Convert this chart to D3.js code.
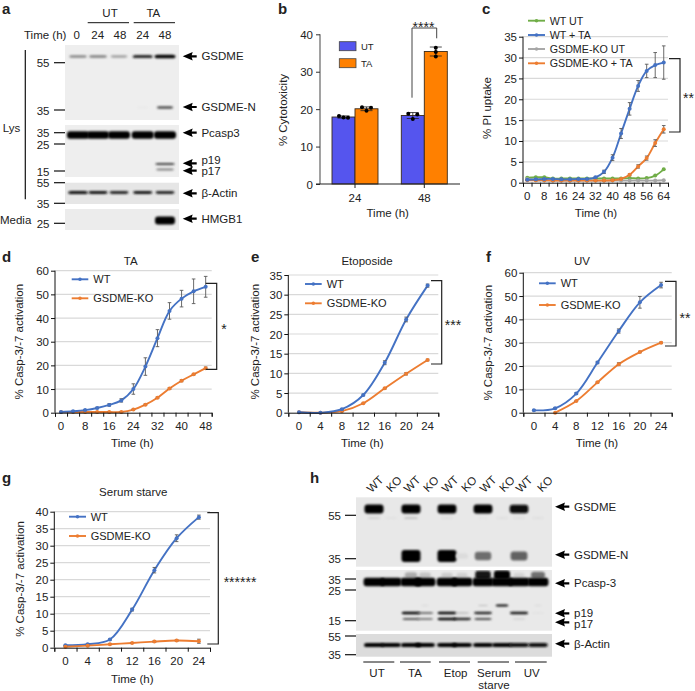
<!DOCTYPE html>
<html><head><meta charset="utf-8">
<script src="https://cdn.jsdelivr.net/npm/d3@7/dist/d3.min.js"></script>
<style>html,body{margin:0;padding:0;background:#fff}svg{display:block}text{font-family:"Liberation Sans",Arial,sans-serif;fill:#222}</style>
</head><body><svg id="c" width="695" height="691"></svg>
<script>
// ---------- data ----------
const barCats = ["24","48"];
const barUT = [17.9,18.3];
const barTA = [20.1,35.4];
const barUTpts = [[18.2,17.8,17.7],[18.8,17.4,18.6]];
const barTApts = [[20.5,19.6,20.4],[36.4,35.3,34.1]];
const barUTerr = [0.3,0.8];
const barTAerr = [0.5,1.2];

const cTime = [0,4,8,12,16,20,24,28,32,36,40,44,48,52,56,60,64];
const cWTUT = [1.2,1.3,1.3,1.0,1,1,1,1,1,1,1,1,1.1,1,1.1,1.7,3.2];
const cWTTA = [0.7,0.8,0.9,0.9,0.8,0.8,0.9,0.9,1.3,2.6,6,11.8,17.7,23.2,26.8,28.2,28.8];
const cWTTAerr = [0.1,0.1,0.1,0.1,0.1,0.1,0.1,0.1,0.2,0.4,0.7,1.2,1.5,1.3,1.6,3,4];
const cKOUT = [0.9,0.6,0.5,0.5,0.5,0.5,0.5,0.5,0.5,0.5,0.5,0.5,0.5,0.5,0.5,0.5,0.6];
const cKOTA = [0.6,0.6,0.6,0.5,0.5,0.5,0.5,0.5,0.5,0.5,0.6,0.9,1.9,3.9,5.9,9.5,12.8];
const cKOTAerr = [0.1,0.1,0.1,0.1,0.1,0.1,0.1,0.1,0.1,0.1,0.1,0.1,0.2,0.4,0.5,0.8,0.9];

const dTime = [0,4,8,12,16,20,24,28,32,36,40,44,48];
const dWT = [0.3,0.6,1.1,2,3.3,5.2,10,19.5,31.5,43,48.2,51.3,53.2];
const dWTerr = [0.1,0.1,0.2,0.3,0.5,0.7,2.2,3.7,3.6,3.5,3.5,5.2,4.4];
const dKO = [0.3,0.3,0.3,0.3,0.3,0.3,1.3,3.4,6.3,10.2,13.5,16.2,18.8];
const dKOerr = [0.1,0.1,0.1,0.1,0.1,0.1,0.2,0.3,0.3,0.4,0.4,0.3,0.5];

const h24 = [0,4,8,12,16,20,24];
const eWT = [0.1,0,0.9,4.5,12.7,23.7,32.3];
const eWTerr = [0,0,0.1,0.2,0.5,0.6,0.4];
const eKO = [0.1,0,0.4,2.4,6.2,9.9,13.4];
const eKOerr = [0,0,0.1,0.1,0.2,0.3,0.2];

const fWT = [1,1.9,8.2,21.5,35,47.3,54.7];
const fWTerr = [0.2,0.3,0.4,0.5,0.9,2.5,1.2];
const fKO = [null,0,5,13,20.8,26,30];
const fKOerr = [0,0,0.2,0.3,0.6,0.3,0.3];

const gWT = [0.7,1,2.4,11.2,22.8,32.2,38.4];
const gWTerr = [0.1,0.1,0.2,0.4,0.8,1,0.6];
const gKO = [0.3,0.6,1,1.4,1.8,2.1,1.9];
const gKOerr = [0.1,0.1,0.1,0.1,0.2,0.2,0.6];

// blot intensities (0..1) per lane
const aLanes = ["0","24","48","24b","48b"];
const aGSDME = [0.42,0.45,0.32,0.8,1];
const aGSDMEN = [0,0,0,0.03,0.65];
const aPcasp = [1,1,1,1,1];
const aP19 = [0,0,0,0,0.7];
const aP17 = [0,0,0,0,0.45];
const aActin = [0.9,0.85,0.8,0.85,0.8];
const aHMGB1 = [0,0,0,0,1];

const hLanes = ["WT1","KO1","WT2","KO2","WT3","KO3","WT4","KO4","WT5","KO5"];
const hLaneLabels = ["WT","KO","WT","KO","WT","KO","WT","KO","WT","KO"];
const hGSDME = [1,0,1,0,0.95,0,0.95,0,0.92,0];
const hGSDMEFaint = [0.12,0.04,0.2,0,0.05,0,0.03,0.05,0.05,0.05];
const hGSDMEN = [0,0,1,0,1,0.05,0.5,0,0.55,0];
const hPcasp = [1,1,1,1,0.95,0.95,1,1,0.95,1];
const hPcaspSmear = [0,0,0.25,0.15,0.12,0.1,0.85,1,0.08,0.5];
const hP19 = [0,0,0.95,0.5,1,0.2,0.8,0,0.85,0.05];
const hP17 = [0,0,0.6,0.45,1,0.8,0.65,0,0.1,0];
const hUpper = [0,0,0,0.08,0,0,0.2,0.9,0,0.08];
const hActin = [1,0.95,1,0.95,0.95,0.95,0.95,0.95,0.9,0.9];
const hGroups = ["UT","TA","Etop","Serum","UV"];

// ---------- helpers ----------
const svg = d3.select("#c");
const BLUE="#4472c4", ORANGE="#ed7d31", GREEN="#70ad47", GRAY="#a5a5a5";
const defs = svg.append("defs");
[0.8,1.2,2].forEach(s=>{
  defs.append("filter").attr("id","b"+String(s).replace(".","_"))
    .attr("x","-30%").attr("y","-150%").attr("width","160%").attr("height","400%")
    .append("feGaussianBlur").attr("stdDeviation",s);
});
function txt(x,y,s,o={}){
  const t=svg.append("text").attr("x",x).attr("y",y).attr("text-anchor",o.a||"start")
    .attr("dominant-baseline","central").attr("font-size",o.fs||11.5).text(s);
  if(o.b)t.attr("font-weight","bold");
  if(o.r!=null)t.attr("transform",`rotate(${o.r},${x},${y})`);
  return t;
}
function line(x1,y1,x2,y2,c="#222",w=1){
  svg.append("line").attr("x1",x1).attr("y1",y1).attr("x2",x2).attr("y2",y2).attr("stroke",c).attr("stroke-width",w);
}
function bracket(x1,x2,y1,y2,stars,sx,sy){
  svg.append("path").attr("d",`M${x1},${y1}H${x2}V${y2}H${x1}`).attr("fill","none").attr("stroke","#222").attr("stroke-width",1.2);
  txt(sx,sy+3,stars,{a:"middle",fs:14});
}
function lineChart(cfg){
  const {L,R,T,B,yMax,yStep,labels,series,tickEvery,labelY,title,titleX,titleY,xLabelX,xLabelY,yLabelX,yLabelY,legend}=cfg;
  const x=d3.scaleBand().domain(labels).range([L,R]);
  const y=d3.scaleLinear().domain([0,yMax]).range([B,T]);
  const ticks=d3.range(0,yMax+1e-6,yStep);
  ticks.slice(1).forEach(t=>line(L,y(t),R,y(t),"#d9d9d9",1.2));
  const g=svg.append("g");
  const lg=d3.line().defined(d=>d.v!=null).x(d=>x(d.l)+x.bandwidth()/2).y(d=>y(d.v)).curve(d3.curveCatmullRom.alpha(0.5));
  series.forEach(s=>{
    const pts=labels.map((l,i)=>({l,v:s.v[i],e:s.e?s.e[i]:0}));
    g.append("path").datum(pts).attr("d",lg).attr("fill","none").attr("stroke",s.c).attr("stroke-width",1.9);
    const pp=pts.filter(d=>d.v!=null);
    g.selectAll(null).data(pp.filter(d=>d.e>0)).join("path")
      .attr("d",d=>{const X=x(d.l)+x.bandwidth()/2;return `M${X},${y(d.v+d.e)}V${y(Math.max(0,d.v-d.e))}M${X-1.8},${y(d.v+d.e)}h3.6M${X-1.8},${y(Math.max(0,d.v-d.e))}h3.6`;})
      .attr("stroke","#595959").attr("stroke-width",0.9).attr("fill","none");
    g.selectAll(null).data(pp).join("circle")
      .attr("cx",d=>x(d.l)+x.bandwidth()/2).attr("cy",d=>y(d.v)).attr("r",s.r||2).attr("fill",s.c);
  });
  const ya=svg.append("g").attr("transform",`translate(${L},0)`)
    .call(d3.axisLeft(y).tickValues(ticks).tickSize(4).tickFormat(d3.format("d")));
  ya.selectAll("path,line").attr("stroke","#111").attr("stroke-width",1);
  ya.selectAll("text").attr("font-size",11.5).attr("dominant-baseline","central").attr("dy",0).attr("x",-6).style("fill","#222");
  ya.selectAll("path").attr("d",`M0,${T}V${B}`);
  const xe=d3.range(labels.length+1).map(i=>L+i*x.step());
  const xa=svg.append("g").attr("transform",`translate(0,${B})`)
    .call(d3.axisBottom(d3.scaleLinear().domain([L,R]).range([L,R])).tickValues(xe).tickSize(4).tickFormat(""));
  xa.selectAll("path,line").attr("stroke","#111").attr("stroke-width",1);
  labels.forEach((l,i)=>{ if(i%tickEvery===0) txt(x(l)+x.bandwidth()/2,labelY,l,{a:"middle"}); });
  if(title) txt(titleX,titleY,title,{a:"middle",fs:11.5});
  txt(xLabelX,xLabelY,"Time (h)",{a:"middle"});
  txt(yLabelX,yLabelY,cfg.yLabel,{a:"middle",r:-90});
  legend.items.forEach((it,i)=>{
    const ly=legend.ys[i];
    line(legend.x1,ly,legend.x2,ly,it.c,1.9);
    svg.append("circle").attr("cx",(legend.x1+legend.x2)/2).attr("cy",ly).attr("r",1.8).attr("fill",it.c);
    txt(legend.tx,ly,it.n,{fs:legend.fs||11});
  });
}
function blot(cfg){
  const {x0,x1,rows,panels,lanes,laneX,laneW}=cfg;
  panels.forEach(p=>{
    const id="cl"+Math.round(x0)+"_"+Math.round(p[0]);
    defs.append("clipPath").attr("id",id).append("rect").attr("x",x0).attr("y",p[0]).attr("width",x1-x0).attr("height",p[1]-p[0]);
    svg.append("rect").attr("x",x0).attr("y",p[0]).attr("width",x1-x0).attr("height",p[1]-p[0]).attr("fill",p[2]||"#ececec");
    const g=svg.append("g").attr("clip-path",`url(#${id})`);
    rows.filter(r=>r.y>=p[0]&&r.y<=p[1]).forEach(r=>{
      const col=d3.scaleLinear().domain([0,1]).range([p[2]||"#ececec","#000"]);
      g.selectAll(null).data(r.vals.map((v,i)=>({v,l:lanes[i]})).filter(d=>d.v>0)).join("rect")
        .attr("x",d=>laneX(d.l)-laneW*(r.wf||1)*(0.55+0.45*Math.sqrt(d.v))/2)
        .attr("width",d=>laneW*(r.wf||1)*(0.55+0.45*Math.sqrt(d.v)))
        .attr("y",d=>r.y-r.h*(0.45+0.55*d.v)/2)
        .attr("height",d=>r.h*(0.45+0.55*d.v))
        .attr("rx",3)
        .attr("fill",d=>col(Math.min(1,d.v*1.05)))
        .attr("filter",`url(#b${String(r.blur||1.2).replace(".","_")})`);
    });
  });
}
function arrow(tip,tail,y,label,ly){
  svg.append("path").attr("d",`M${tip},${y}L${tip+10},${y-4.2}L${tip+9},${y-1.1}H${tail}V${y+1.1}H${tip+9}L${tip+10},${y+4.2}Z`).attr("fill","#000");
  if(label) txt(tail+4.7,ly==null?y:ly,label,{});
}
function marker(x1,x2,y,l,tx){
  line(x1,y,x2,y,"#111",1.2);
  txt(tx,y+0.5,l,{a:"end"});
}

// ---------- panel letters ----------
[["a",2,8],["b",278,8],["c",482,8],["d",2,256],["e",251,256],["f",486,256],["g",2,477],["h",310,477]]
  .forEach(d=>txt(d[1],d[2],d[0],{b:true,fs:15}));

// ---------- panel a ----------
txt(110,12.7,"UT",{a:"middle"}); txt(153.3,12.7,"TA",{a:"middle"});
line(87.7,22.7,129,22.7,"#111",1); line(133.7,22.7,175,22.7,"#111",1);
txt(24,34.7,"Time (h)",{});
["0","24","48","24","48"].forEach((l,i)=>txt([76.7,97.7,120,142.7,165][i],34.7,l,{a:"middle"}));
const aX=d3.scaleOrdinal().domain(aLanes).range([78,98,119,142.7,165]);
blot({x0:65,x1:179,lanes:aLanes,laneX:aX,laneW:21,
 panels:[[45,120,"#eeeeee"],[125,177,"#eeeeee"],[182.7,204,"#e6e6e6"],[209,230,"#ececec"]],
 rows:[
  {y:56.5,h:3.6,vals:aGSDME,blur:0.8},
  {y:107.5,h:3,vals:aGSDMEN,blur:0.8,wf:0.85},
  {y:135,h:7.5,vals:aPcasp,blur:1.2,wf:1.05},
  {y:164,h:2.6,vals:aP19,blur:0.8},
  {y:169.5,h:2.6,vals:aP17,blur:0.8},
  {y:192.5,h:3.2,vals:aActin,blur:0.8,wf:0.95},
  {y:220.5,h:8,vals:aHMGB1,blur:0.8,wf:0.95}
 ]});
[[62.7,"55"],[110,"35"],[132.7,"35"],[144,"25"],[171,"15"],[182.7,"55"],[203.3,"35"],[223.3,"25"]]
  .forEach(d=>marker(54,65,d[0],d[1],49.5));
txt(2.7,128,"Lys",{}); txt(0,220,"Media",{});
line(25.3,50,25.3,199.3,"#111",1.2);
arrow(182.7,196.7,56.3,"GSDME");
arrow(182.7,196.7,107,"GSDME-N");
arrow(182.7,196.7,132.7,"Pcasp3");
arrow(182.7,196.7,163.3,"p19",160);
arrow(182.7,196.7,170.7,"p17",171);
arrow(182.7,196.7,193.3,"β-Actin");
arrow(182.7,196.7,218.7,"HMGB1");

// ---------- panel b ----------
(function(){
  const y=d3.scaleLinear().domain([0,40]).range([184,34.3]);
  const cx=d3.scaleOrdinal().domain(barCats).range([355,424.3]);
  const bw=23;
  const draw=(vals,pts,errs,off,fill)=>{
    barCats.forEach((c,i)=>{
      const X=cx(c)+(off<0?-bw:0);
      svg.append("rect").attr("x",X).attr("y",y(vals[i])).attr("width",bw).attr("height",y(0)-y(vals[i])).attr("fill",fill).attr("stroke","#3a2a1a").attr("stroke-width",0.9);
      const m=X+bw/2;
      svg.append("path").attr("d",`M${m},${y(vals[i]+errs[i])}V${y(vals[i]-errs[i])}M${m-6},${y(vals[i]+errs[i])}h12M${m-6},${y(vals[i]-errs[i])}h12`).attr("stroke","#222").attr("stroke-width",0.8).attr("fill","none");
      pts[i].forEach((v,j)=>svg.append("circle").attr("cx",m+[-1,0,1][j]*(i==1&&off>0?[0,1.2,0][j]*3:4.5)).attr("cy",y(v)).attr("r",2).attr("fill","#000"));
    });
  };
  draw(barUT,barUTpts,barUTerr,-1,"#5555ee");
  draw(barTA,barTApts,barTAerr,1,"#ff8000");
  const ya=svg.append("g").attr("transform","translate(320,0)").call(d3.axisLeft(y).tickValues([0,10,20,30,40]).tickSize(4).tickFormat(d3.format("d")));
  ya.selectAll("path").attr("stroke","#555").attr("stroke-width",1.1).attr("d","M0,34.3V184");
  ya.selectAll("line").attr("stroke","#333");
  ya.selectAll("text").attr("font-size",11.5).attr("x",-7).attr("dy",0).attr("dominant-baseline","central").style("fill","#222");
  line(316,184,460,184,"#222",1.1);
  barCats.forEach(c=>{line(cx(c),184,cx(c),188,"#222",1);txt(cx(c),198,c,{a:"middle"});});
  txt(387.7,212.7,"Time (h)",{a:"middle"});
  txt(283,110,"% Cytotoxicity",{a:"middle",r:-90});
  svg.append("rect").attr("x",339.3).attr("y",41.7).attr("width",16.7).attr("height",9).attr("fill","#5555ee").attr("stroke","#444").attr("stroke-width",0.8);
  svg.append("rect").attr("x",339.3).attr("y",58.7).attr("width",16.7).attr("height",9).attr("fill","#ff8000").attr("stroke","#444").attr("stroke-width",0.8);
  txt(361,46,"UT",{fs:9.5}); txt(361,63,"TA",{fs:9.5});
  svg.append("path").attr("d","M412,97.7V28H436.7V38.3").attr("fill","none").attr("stroke","#444").attr("stroke-width",1);
  txt(423.5,27,"****",{a:"middle",fs:14});
})();

// ---------- line panels ----------
lineChart({L:523,R:668,T:36.7,B:182.7,yMax:35,yStep:5,labels:cTime.map(String),tickEvery:2,labelY:196,
  series:[{v:cWTUT,c:GREEN},{v:cKOUT,c:GRAY},{v:cKOTA,e:cKOTAerr,c:ORANGE},{v:cWTTA,e:cWTTAerr,c:BLUE}],
  xLabelX:596,xLabelY:212.7,yLabelX:487,yLabelY:108,yLabel:"% PI uptake",
  legend:{x1:528,x2:545,tx:549.7,fs:10.7,ys:[20.7,35,49,63.3],items:[{n:"WT UT",c:GREEN},{n:"WT + TA",c:BLUE},{n:"GSDME-KO UT",c:GRAY},{n:"GSDME-KO + TA",c:ORANGE}]}});
bracket(669,680,58.7,132,"**",688.5,95);

lineChart({L:55,R:211.7,T:270.7,B:412.7,yMax:60,yStep:10,labels:dTime.map(String),tickEvery:2,labelY:426,
  series:[{v:dKO,e:dKOerr,c:ORANGE},{v:dWT,e:dWTerr,c:BLUE}],title:"TA",titleX:130.7,titleY:261,
  xLabelX:132.3,xLabelY:442.7,yLabelX:19,yLabelY:341.7,yLabel:"% Casp-3/-7 activation",
  legend:{x1:71.7,x2:88.3,tx:93.3,ys:[279.3,298.3],items:[{n:"WT",c:BLUE},{n:"GSDME-KO",c:ORANGE}]}});
bracket(205.7,216.7,283.3,369.3,"*",224,326);

lineChart({L:288.3,R:438.3,T:275,B:412.7,yMax:35,yStep:5,labels:h24.map(String),tickEvery:1,labelY:426,
  series:[{v:eKO,e:eKOerr,c:ORANGE},{v:eWT,e:eWTerr,c:BLUE}],title:"Etoposide",titleX:367,titleY:261,
  xLabelX:362.3,xLabelY:442.7,yLabelX:255,yLabelY:341.7,yLabel:"% Casp-3/-7 activation",
  legend:{x1:305,x2:321.7,tx:326.7,ys:[284,303.3],items:[{n:"WT",c:BLUE},{n:"GSDME-KO",c:ORANGE}]}});
bracket(431,441.7,280.7,364,"***",453,322);

lineChart({L:523.3,R:671.7,T:272.7,B:412.7,yMax:60,yStep:10,labels:h24.map(String),tickEvery:1,labelY:426,
  series:[{v:fKO,e:fKOerr,c:ORANGE},{v:fWT,e:fWTerr,c:BLUE}],title:"UV",titleX:582,titleY:261,
  xLabelX:597,xLabelY:442.7,yLabelX:487.7,yLabelY:342.7,yLabel:"% Casp-3/-7 activation",
  legend:{x1:539,x2:555.7,tx:560.7,ys:[283.3,305],items:[{n:"WT",c:BLUE},{n:"GSDME-KO",c:ORANGE}]}});
bracket(665,676,281.3,346,"**",685,314.7);

lineChart({L:54.3,R:210,T:511.7,B:647.7,yMax:40,yStep:5,labels:h24.map(String),tickEvery:1,labelY:661,
  series:[{v:gWT,e:gWTerr,c:BLUE},{v:gKO,e:gKOerr,c:ORANGE}],title:"Serum starve",titleX:133.3,titleY:492.3,
  xLabelX:132.3,xLabelY:678.7,yLabelX:20,yLabelY:579,yLabel:"% Casp-3/-7 activation",
  legend:{x1:69,x2:86,tx:90.7,ys:[516.7,536],items:[{n:"WT",c:BLUE},{n:"GSDME-KO",c:ORANGE}]}});
bracket(207.3,218.3,512.7,644,"******",240,578.7);

// ---------- panel h ----------
const hLabelX=[375,394,412,431,450,469,488,507,524,545];
hLaneLabels.forEach((l,i)=>txt(hLabelX[i],484,l,{a:"middle",r:-45}));
const hX=d3.scaleOrdinal().domain(hLanes).range([374,391,411,425,447,462,483,502,519,538]);
blot({x0:356,x1:552,lanes:hLanes,laneX:hX,laneW:19,
 panels:[[497.3,566.7,"#e8e8e8"],[570,630.7,"#e9e9e9"],[634,656.7,"#dcdcdc"]],
 rows:[
  {y:518,h:3,vals:hGSDMEFaint,blur:1.2},
  {y:509,h:9,vals:hGSDME,blur:1.2},
  {y:556,h:12,vals:hGSDMEN,blur:1.2},
  {y:575,h:9,vals:hPcaspSmear,blur:1.2,wf:0.85},
  {y:582,h:8.5,vals:hPcasp,blur:1.2,wf:1.1},
  {y:605.5,h:2,vals:hUpper,blur:0.8,wf:0.7},
  {y:613,h:2.6,vals:hP19,blur:0.8},
  {y:619,h:2.6,vals:hP17,blur:0.8},
  {y:645,h:4,vals:hActin,blur:0.8,wf:1.05}
 ]});
[[515.3,"55"],[558.7,"35"],[579,"35"],[590,"25"],[620.7,"15"],[636,"55"],[654.7,"35"]]
  .forEach(d=>marker(345,356,d[0],d[1],341));
arrow(555,569.3,506.7,"GSDME");
arrow(555,569.3,554.7,"GSDME-N");
arrow(555,569.3,583.3,"Pcasp-3");
arrow(555,569.3,613.3,"p19",612.7);
arrow(555,569.3,622.3,"p17",623.7);
arrow(555,569.3,643.7,"β-Actin");
const hSeg=[[363.3,394.3],[400,430.7],[439,470],[477.7,509],[515,546.7]];
const hGX=[377,415,455.7,494,531.7];
hGroups.forEach((g,i)=>{line(hSeg[i][0],662,hSeg[i][1],662,"#111",1);txt(hGX[i],673,g,{a:"middle"});});
txt(494,684.5,"starve",{a:"middle"});
</script></body></html>
